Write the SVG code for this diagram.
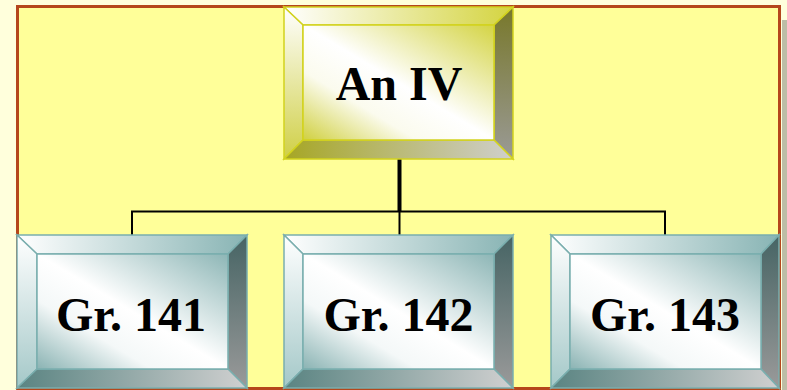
<svg xmlns="http://www.w3.org/2000/svg" width="787" height="390" viewBox="0 0 787 390">
<defs>
<style>
.lbl{font-family:"Liberation Serif","Times New Roman",serif;font-weight:bold;font-size:48px;fill:#000;text-anchor:middle}
.yb polygon,.yb rect{stroke:#D2D21E;stroke-width:1.5}
.tb polygon,.tb rect{stroke:#7AAEAE;stroke-width:1.5}
.yb .face{fill:url(#yFace)}.yb .top{fill:url(#yTop)}.yb .left{fill:url(#yLeft)}.yb .right{fill:url(#yRight)}.yb .bot{fill:url(#yBot)}
.tb .face{fill:url(#tFace)}.tb .top{fill:url(#tTop)}.tb .left{fill:url(#tLeft)}.tb .right{fill:url(#tRight)}.tb .bot{fill:url(#tBot)}
.conn line{stroke:#000}
</style>
<linearGradient id="yFace" x1="1" y1="0" x2="0" y2="1"><stop offset="0" stop-color="#D4D444"/><stop offset="0.5" stop-color="#FFFFFF"/><stop offset="0.7" stop-color="#FBFBEE"/><stop offset="1" stop-color="#D0D040"/></linearGradient>
<linearGradient id="yTop" x1="0" y1="0" x2="1" y2="0"><stop offset="0" stop-color="#FFFFFF"/><stop offset="1" stop-color="#D4D440"/></linearGradient>
<linearGradient id="yLeft" x1="0" y1="0" x2="0" y2="1"><stop offset="0" stop-color="#FFFFFF"/><stop offset="1" stop-color="#CFCF45"/></linearGradient>
<linearGradient id="yRight" x1="0" y1="0" x2="0" y2="1"><stop offset="0" stop-color="#78782A"/><stop offset="1" stop-color="#9A9A96"/></linearGradient>
<linearGradient id="yBot" x1="0" y1="0" x2="1" y2="0"><stop offset="0" stop-color="#A6A624"/><stop offset="1" stop-color="#CFCFCC"/></linearGradient>
<linearGradient id="tFace" x1="1" y1="0" x2="0" y2="1"><stop offset="0" stop-color="#8DB6B6"/><stop offset="0.5" stop-color="#FFFFFF"/><stop offset="0.7" stop-color="#F4F8F8"/><stop offset="1" stop-color="#8AB3B3"/></linearGradient>
<linearGradient id="tTop" x1="0" y1="0" x2="1" y2="0"><stop offset="0" stop-color="#FFFFFF"/><stop offset="1" stop-color="#88B4B4"/></linearGradient>
<linearGradient id="tLeft" x1="0" y1="0" x2="0" y2="1"><stop offset="0" stop-color="#FFFFFF"/><stop offset="1" stop-color="#A4C8C8"/></linearGradient>
<linearGradient id="tRight" x1="0" y1="0" x2="0" y2="1"><stop offset="0" stop-color="#466464"/><stop offset="1" stop-color="#9A9A9A"/></linearGradient>
<linearGradient id="tBot" x1="0" y1="0" x2="1" y2="0"><stop offset="0" stop-color="#5A8482"/><stop offset="1" stop-color="#D0D0D0"/></linearGradient>
</defs>
<rect x="0" y="0" width="787" height="390" fill="#FFFFDC"/>
<rect x="782" y="20" width="5" height="370" fill="#BDBDA6"/>
<rect x="17.5" y="6.5" width="762" height="382" fill="#FFFF99" stroke="#B5471B" stroke-width="3"/>
<g id="connectors" class="conn">
<line x1="399.5" y1="159" x2="399.5" y2="212" stroke-width="4"/>
<line x1="131" y1="211.5" x2="666" y2="211.5" stroke-width="2"/>
<line x1="132" y1="211" x2="132" y2="235" stroke-width="2"/>
<line x1="399.5" y1="211" x2="399.5" y2="235" stroke-width="2"/>
<line x1="665" y1="211" x2="665" y2="235" stroke-width="2"/>
</g>
<g id="node-an-iv" class="yb">
<polygon class="top" points="284,7 513,7 494,25 303,25"/>
<polygon class="left" points="284,7 303,25 303,140 284,159"/>
<polygon class="right" points="513,7 513,159 494,140 494,25"/>
<polygon class="bot" points="284,159 303,140 494,140 513,159"/>
<rect class="face" x="303" y="25" width="191" height="115"/>
<text class="lbl" x="399" y="100">An IV</text>
</g>
<g id="node-gr141" class="tb">
<polygon class="top" points="17,235 247,235 228,254 37,254"/>
<polygon class="left" points="17,235 37,254 37,369 17,388"/>
<polygon class="right" points="247,235 247,388 228,369 228,254"/>
<polygon class="bot" points="17,388 37,369 228,369 247,388"/>
<rect class="face" x="37" y="254" width="191" height="115"/>
<text class="lbl" x="131" y="331">Gr. 141</text>
</g>
<g id="node-gr142" class="tb">
<polygon class="top" points="284,235 513,235 494,254 303,254"/>
<polygon class="left" points="284,235 303,254 303,369 284,388"/>
<polygon class="right" points="513,235 513,388 494,369 494,254"/>
<polygon class="bot" points="284,388 303,369 494,369 513,388"/>
<rect class="face" x="303" y="254" width="191" height="115"/>
<text class="lbl" x="398.5" y="331">Gr. 142</text>
</g>
<g id="node-gr143" class="tb">
<polygon class="top" points="551,235 779,235 761,254 570,254"/>
<polygon class="left" points="551,235 570,254 570,369 551,388"/>
<polygon class="right" points="779,235 779,388 761,369 761,254"/>
<polygon class="bot" points="551,388 570,369 761,369 779,388"/>
<rect class="face" x="570" y="254" width="191" height="115"/>
<text class="lbl" x="665" y="331">Gr. 143</text>
</g>
</svg>
